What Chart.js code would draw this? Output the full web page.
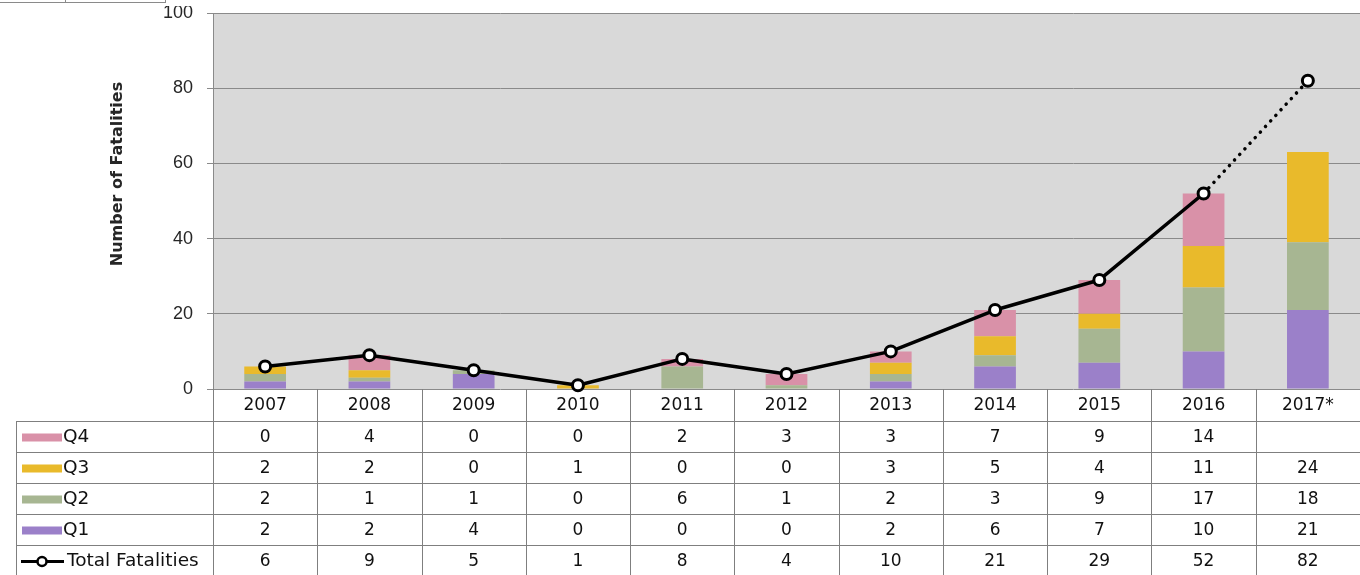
<!DOCTYPE html>
<html>
<head>
<meta charset="utf-8">
<script src="https://cdn.jsdelivr.net/npm/chart.js@4/dist/chart.umd.min.js"></script>
<style>
  html, body { margin: 0; padding: 0; background: #fff; }
  #wrap { width: 1360px; height: 575px; position: relative; overflow: hidden; }
</style>
</head>
<body>
<div id="wrap"><canvas id="c" width="1360" height="575"></canvas></div>
<script>
const years = ['2007','2008','2009','2010','2011','2012','2013','2014','2015','2016','2017*'];
const q1 = [2, 2, 4, 0, 0, 0, 2, 6, 7, 10, 21];
const q2 = [2, 1, 1, 0, 6, 1, 2, 3, 9, 17, 18];
const q3 = [2, 2, 0, 1, 0, 0, 3, 5, 4, 11, 24];
const q4 = [0, 4, 0, 0, 2, 3, 3, 7, 9, 14, null];
const totals = [6, 9, 5, 1, 8, 4, 10, 21, 29, 52, 82];
const yTicks = [0, 20, 40, 60, 80, 100];
const yTitle = 'Number of Fatalities';

const colors = { q1: '#9b80c9', q2: '#a7b692', q3: '#e9ba2b', q4: '#d991a8' };
const lineCol = '#7f7f7f';

const tableRows = [
  { label: 'Q4', values: q4, color: colors.q4, type: 'bar' },
  { label: 'Q3', values: q3, color: colors.q3, type: 'bar' },
  { label: 'Q2', values: q2, color: colors.q2, type: 'bar' },
  { label: 'Q1', values: q1, color: colors.q1, type: 'bar' },
  { label: 'Total Fatalities', values: totals, color: '#000', type: 'line' }
];

const bgPlugin = {
  id: 'bg',
  beforeDraw(chart) {
    const { ctx, chartArea: a } = chart;
    ctx.save();
    ctx.fillStyle = '#d9d9d9';
    ctx.fillRect(a.left, a.top, a.right - a.left, a.bottom - a.top);
    ctx.restore();
  }
};

const tablePlugin = {
  id: 'tablePlugin',
  afterDraw(chart) {
    const { ctx, chartArea: a, scales: { x } } = chart;
    const n = years.length;
    const band = (a.right - a.left) / n;
    const headTop = a.bottom;
    const headBot = 421;
    const rowH = 31;
    const tableLeft = 16;
    const bottom = headBot + rowH * tableRows.length;
    ctx.save();
    ctx.strokeStyle = lineCol;
    ctx.lineWidth = 1;
    for (let i = 0; i <= n; i++) {
      const xx = Math.round(a.left + i * band) + 0.5;
      ctx.beginPath();
      ctx.moveTo(xx, headTop);
      ctx.lineTo(xx, bottom);
      ctx.stroke();
    }
    ctx.beginPath();
    ctx.moveTo(tableLeft + 0.5, headBot);
    ctx.lineTo(tableLeft + 0.5, bottom);
    ctx.stroke();
    for (let r = 0; r <= tableRows.length; r++) {
      const yy = Math.round(headBot + r * rowH) + 0.5;
      ctx.beginPath();
      ctx.moveTo(tableLeft, yy);
      ctx.lineTo(a.right, yy);
      ctx.stroke();
    }
    ctx.fillStyle = '#111';
    ctx.font = '17px "DejaVu Sans"';
    ctx.textAlign = 'center';
    ctx.textBaseline = 'middle';
    years.forEach((yr, i) => {
      ctx.fillText(yr, x.getPixelForValue(i), (headTop + headBot) / 2 + 1);
    });
    tableRows.forEach((row, r) => {
      const cy = headBot + r * rowH + rowH / 2 + 1;
      if (row.type === 'bar') {
        ctx.fillStyle = row.color;
        ctx.fillRect(22, cy - 4, 40, 8);
      } else {
        ctx.strokeStyle = '#000';
        ctx.lineWidth = 3;
        ctx.beginPath();
        ctx.moveTo(21, cy);
        ctx.lineTo(64, cy);
        ctx.stroke();
        ctx.fillStyle = '#fff';
        ctx.lineWidth = 2.5;
        ctx.beginPath();
        ctx.arc(42, cy, 4.5, 0, Math.PI * 2);
        ctx.fill();
        ctx.stroke();
      }
      ctx.fillStyle = '#111';
      ctx.textAlign = 'left';
      ctx.font = '18.5px "DejaVu Sans"';
      ctx.fillText(row.label, row.type === 'bar' ? 63 : 67, cy);
      ctx.font = '17px "DejaVu Sans"';
      ctx.textAlign = 'center';
      row.values.forEach((v, i) => {
        if (v === null || v === undefined) return;
        ctx.fillText(String(v), x.getPixelForValue(i), cy);
      });
    });
    ctx.save();
    ctx.translate(118, 174);
    ctx.rotate(-Math.PI / 2);
    ctx.font = 'bold 16px "DejaVu Sans"';
    ctx.fillStyle = '#262626';
    ctx.textAlign = 'center';
    ctx.textBaseline = 'middle';
    ctx.fillText(yTitle, 0, 0);
    ctx.restore();
    // crop artifact at top: top of "100" label hidden
    ctx.fillStyle = '#fff';
    ctx.fillRect(150, 0, 55, 6);
    ctx.strokeStyle = '#8a8a8a';
    ctx.lineWidth = 1;
    ctx.beginPath();
    ctx.moveTo(0, 2.5); ctx.lineTo(165, 2.5);
    ctx.moveTo(65.5, 0); ctx.lineTo(65.5, 3);
    ctx.moveTo(165.5, 0); ctx.lineTo(165.5, 3);
    ctx.stroke();
    ctx.restore();
  }
};

new Chart(document.getElementById('c'), {
  data: {
    labels: years,
    datasets: [
      { type: 'bar', label: 'Q1', data: q1, backgroundColor: colors.q1, order: 1, stack: 'q' },
      { type: 'bar', label: 'Q2', data: q2, backgroundColor: colors.q2, order: 1, stack: 'q' },
      { type: 'bar', label: 'Q3', data: q3, backgroundColor: colors.q3, order: 1, stack: 'q' },
      { type: 'bar', label: 'Q4', data: q4, backgroundColor: colors.q4, order: 1, stack: 'q' },
      {
        type: 'line', label: 'Total Fatalities', data: totals, stack: 'total', order: 0,
        borderColor: '#000', borderWidth: 3.5, borderCapStyle: 'round', borderJoinStyle: 'round',
        pointRadius: 5.5, pointBackgroundColor: '#fff', pointBorderColor: '#000', pointBorderWidth: 3,
        tension: 0, clip: false,
        segment: {
          borderDash: ctx => ctx.p1DataIndex === years.length - 1 ? [0.1, 7.5] : undefined
        }
      }
    ]
  },
  options: {
    responsive: false,
    animation: false,
    devicePixelRatio: 1,
    layout: { autoPadding: false, padding: { top: 13, bottom: 186, left: 0, right: 0 } },
    plugins: { legend: { display: false }, tooltip: { enabled: false } },
    datasets: { bar: { barPercentage: 0.4, categoryPercentage: 1 } },
    scales: {
      x: { stacked: true, display: false },
      y: {
        stacked: true, min: 0, max: 100,
        afterFit(s) { s.width = 213; s.paddingTop = 0; s.paddingBottom = 0; },
        afterBuildTicks(s) { s.ticks = yTicks.map(v => ({ value: v })); },
        ticks: { font: { family: 'Liberation Sans', size: 18 }, color: '#262626', padding: 14 },
        grid: { color: '#8a8a8a', tickLength: 6, lineWidth: 1 },
        border: { color: '#8a8a8a' }
      }
    }
  },
  plugins: [bgPlugin, tablePlugin]
});
</script>
</body>
</html>
